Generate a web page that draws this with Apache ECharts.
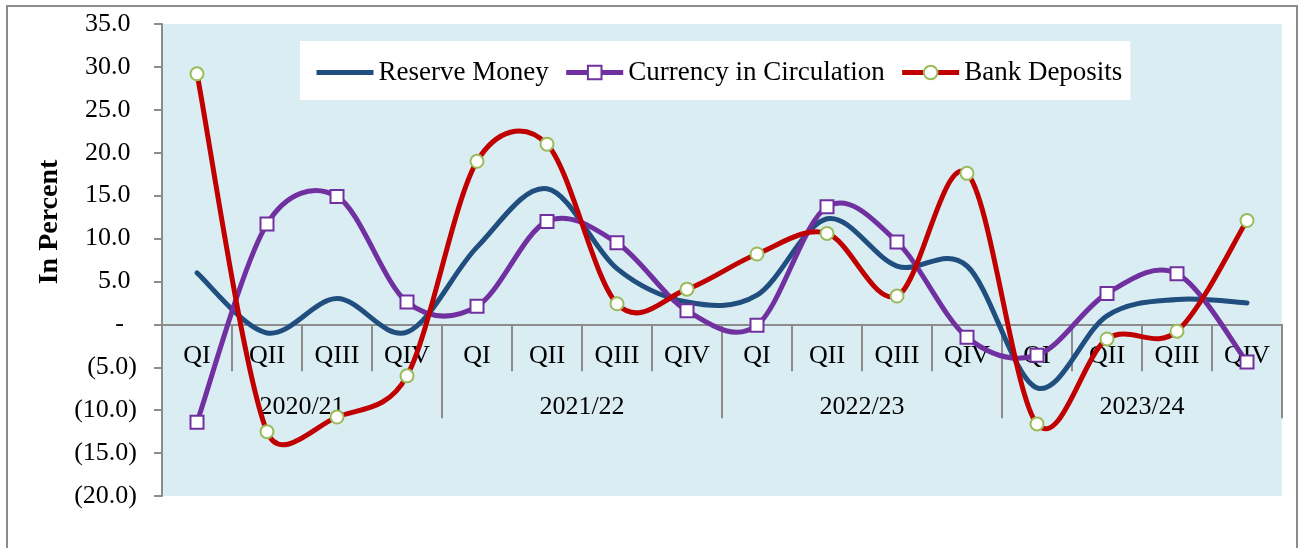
<!DOCTYPE html>
<html>
<head>
<meta charset="utf-8">
<script src="https://cdn.jsdelivr.net/npm/echarts@6/dist/echarts.min.js"></script>
<style>
  html, body { margin: 0; padding: 0; background: #fff; }
  #chart { width: 1302px; height: 548px; }
</style>
</head>
<body>
<div id="chart"></div>
<script>
const quarters = ['QI', 'QII', 'QIII', 'QIV', 'QI', 'QII', 'QIII', 'QIV',
                  'QI', 'QII', 'QIII', 'QIV', 'QI', 'QII', 'QIII', 'QIV']
const years = ['2020/21', '2021/22', '2022/23', '2023/24']

const reserveMoney = [6.0, -1.0, 3.0, -0.9, 9.0, 15.8, 6.5, 2.6, 3.4, 12.3, 6.8, 6.8, -7.4, 1.0, 2.9, 2.5]
const currencyInCirculation = [-11.4, 11.7, 14.9, 2.6, 2.1, 12.0, 9.5, 1.6, -0.1, 13.7, 9.6, -1.5, -3.6, 3.6, 5.9, -4.4]
const bankDeposits = [29.2, -12.5, -10.8, -6.0, 19.0, 21.0, 2.4, 4.1, 8.2, 10.6, 3.3, 17.6, -11.6, -1.7, -0.8, 12.1]

const yTicks = { min: -20, max: 35, step: 5 }

const FONT = 'Liberation Serif'
const BLUE = '#1F4E7F', PURPLE = '#7030A0', RED = '#C00000', GREEN = '#9BBB59'

function fmtPercent(v) {
    if (v === 0) return '-\u00a0\u00a0'
    if (v < 0) return '(' + (-v).toFixed(1) + ')'
    return v.toFixed(1) + '\u00a0'
}

// handle = (next - prev) / 6, but never longer than half of the segment
function handle(from, to, segLen) {
    let hx = (to[0] - from[0]) / 6, hy = (to[1] - from[1]) / 6
    const len = Math.hypot(hx, hy)
    const maxLen = segLen * 0.5
    if (len > maxLen && len > 0) {
        hx *= maxLen / len
        hy *= maxLen / len
    }
    return [hx, hy]
}

// Excel-like smoothed line, drawn through the axis scales
function smoothCurve(values, color) {
    return {
        type: 'custom',
        silent: true,
        z: 2,
        data: values.map((v, i) => [i, v]),
        encode: {x: 0, y: 1},
        renderItem: function (params, api) {
            if (params.dataIndex !== 0) return null
            const p = values.map((v, i) => api.coord([i, v]))
            const n = p.length
            let d = 'M' + p[0][0] + ',' + p[0][1]
            for (let i = 0; i < n - 1; i++) {
                const a = p[Math.max(i - 1, 0)], b = p[i], c = p[i + 1], e = p[Math.min(i + 2, n - 1)]
                const seg = Math.hypot(c[0] - b[0], c[1] - b[1])
                const h1 = handle(a, c, seg), h2 = handle(b, e, seg)
                d += 'C' + (b[0] + h1[0]) + ',' + (b[1] + h1[1]) + ','
                    + (c[0] - h2[0]) + ',' + (c[1] - h2[1]) + ',' + c[0] + ',' + c[1]
            }
            return {
                type: 'path',
                shape: {pathData: d},
                style: {fill: 'none', stroke: color, lineWidth: 5, lineCap: 'round', lineJoin: 'round'}
            }
        }
    }
}

const chart = echarts.init(document.getElementById('chart'))

// zero line sits this far above the grid bottom
const gridTop = 24, gridBottom = 52
const plotH = 548 - gridTop - gridBottom
const zeroOffset = -plotH * (0 - yTicks.min) / (yTicks.max - yTicks.min)

const option = {
    animation: false,
    textStyle: {fontFamily: FONT},
    graphic: [
        {
            type: 'rect',
            shape: {x: 7, y: 6, width: 1290, height: 560},
            style: {fill: 'none', stroke: '#8c8c8c', lineWidth: 2},
            z: -10
        }
    ],
    grid: {
        left: 162, right: 20, top: gridTop, bottom: gridBottom,
        show: true, backgroundColor: '#DAEDF3', borderWidth: 0
    },
    legend: {
        left: 300, top: 41,
        padding: [18, 8, 14, 14],
        backgroundColor: '#fff',
        itemWidth: 57, itemHeight: 17, itemGap: 15,
        textStyle: {fontFamily: FONT, fontSize: 27, color: '#000'},
        data: [
            {name: 'Reserve Money', lineStyle: {color: BLUE, width: 5, opacity: 1}, itemStyle: {opacity: 0}},
            {name: 'Currency in Circulation', lineStyle: {color: PURPLE, width: 5, opacity: 1}},
            {name: 'Bank Deposits', lineStyle: {color: RED, width: 5, opacity: 1}}
        ]
    },
    xAxis: [
        {
            type: 'category',
            data: quarters,
            position: 'bottom',
            offset: zeroOffset,
            axisLine: {onZero: false, lineStyle: {color: '#8c8c8c', width: 2}},
            axisTick: {show: true, interval: 0, length: 47, lineStyle: {color: '#8c8c8c', width: 2}},
            axisLabel: {interval: 0, margin: 19, fontFamily: FONT, fontSize: 26, color: '#000'}
        },
        {
            type: 'category',
            data: years,
            position: 'bottom',
            offset: zeroOffset,
            axisLine: {show: false, onZero: false},
            axisTick: {show: true, interval: 0, length: 94, lineStyle: {color: '#8c8c8c', width: 2}},
            axisLabel: {interval: 0, margin: 70, fontFamily: FONT, fontSize: 26, color: '#000'}
        }
    ],
    yAxis: {
        type: 'value',
        min: yTicks.min, max: yTicks.max, interval: yTicks.step,
        name: 'In Percent',
        nameLocation: 'middle',
        nameGap: 89,
        nameTextStyle: {fontFamily: FONT, fontSize: 28, fontWeight: 'bold', color: '#000', padding: [0, 0, 0, 76]},
        splitLine: {show: false},
        axisLine: {show: true, lineStyle: {color: '#8c8c8c', width: 2}},
        axisTick: {show: true, length: 8, lineStyle: {color: '#8c8c8c', width: 2}},
        axisLabel: {margin: 25, fontFamily: FONT, fontSize: 26, color: '#000', formatter: fmtPercent}
    },
    series: [
        smoothCurve(reserveMoney, BLUE),
        smoothCurve(currencyInCirculation, PURPLE),
        smoothCurve(bankDeposits, RED),
        {
            name: 'Reserve Money',
            type: 'line',
            symbol: 'none',
            z: 3,
            lineStyle: {color: BLUE, width: 5, opacity: 0},
            itemStyle: {color: BLUE},
            data: reserveMoney
        },
        {
            name: 'Currency in Circulation',
            type: 'line',
            symbol: 'rect',
            symbolSize: 13,
            z: 3,
            lineStyle: {color: PURPLE, width: 5, opacity: 0},
            itemStyle: {color: '#fff', borderColor: PURPLE, borderWidth: 2},
            data: currencyInCirculation
        },
        {
            name: 'Bank Deposits',
            type: 'line',
            symbol: 'circle',
            symbolSize: 13,
            z: 3,
            lineStyle: {color: RED, width: 5, opacity: 0},
            itemStyle: {color: '#fff', borderColor: GREEN, borderWidth: 2},
            data: bankDeposits
        }
    ]
}

chart.setOption(option)
</script>
</body>
</html>
